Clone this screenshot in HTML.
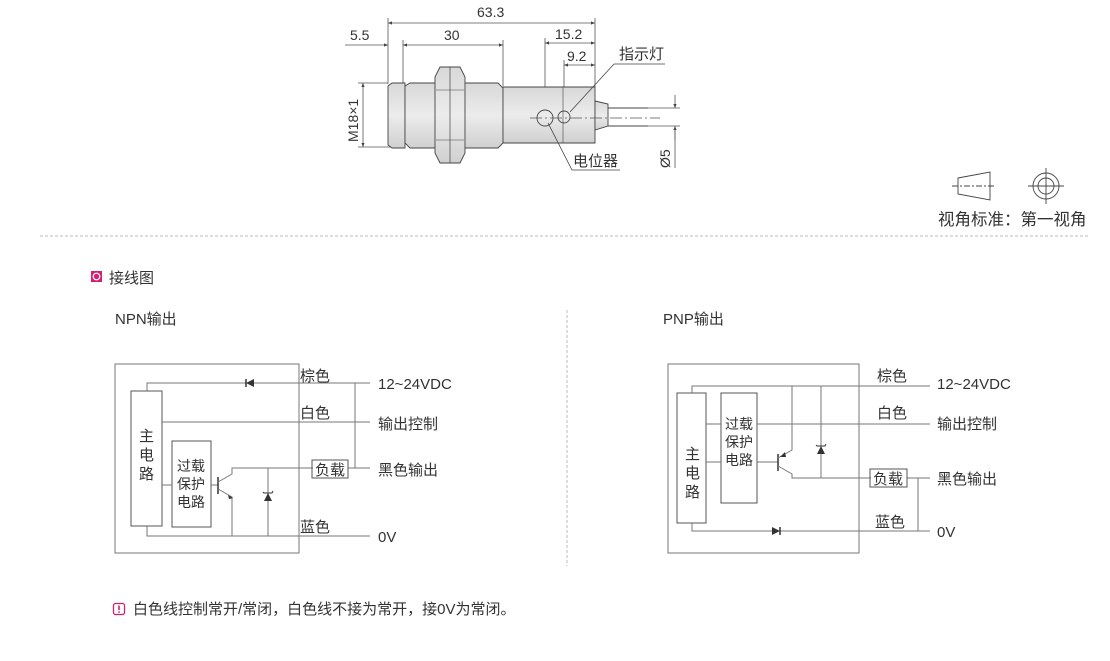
<!DOCTYPE html>
<html><head><meta charset="utf-8"><style>
html,body{margin:0;padding:0;background:#fff;}
svg{display:block;}
text{font-family:"Liberation Sans","Noto Sans CJK SC",sans-serif;fill:#333;}
</style></head><body>
<svg width="1110" height="661" viewBox="0 0 1110 661" xmlns="http://www.w3.org/2000/svg">
<defs>
<linearGradient id="g" x1="0" y1="0" x2="0" y2="1"><stop offset="0" stop-color="#d8d8d8"/><stop offset="0.5" stop-color="#ececec"/><stop offset="1" stop-color="#d0d0d0"/></linearGradient>
<marker id="a" viewBox="0 0 10 10" refX="10" refY="5" markerWidth="7" markerHeight="5" orient="auto-start-reverse"><path d="M0,1 L10,5 L0,9 z" fill="#444"/></marker>
</defs>
<g stroke="#555" stroke-width="0.8" fill="none">
<line x1="388" y1="18" x2="388" y2="84"/>
<line x1="403" y1="40" x2="403" y2="84"/>
<line x1="503" y1="40" x2="503" y2="86"/>
<line x1="545" y1="38" x2="545" y2="110"/>
<line x1="564" y1="60" x2="564" y2="110"/>
<line x1="595" y1="18" x2="595" y2="87"/>
<line x1="388" y1="23" x2="595" y2="23" marker-start="url(#a)" marker-end="url(#a)"/>
<line x1="345" y1="45" x2="388" y2="45" marker-end="url(#a)"/>
<line x1="403" y1="45" x2="503" y2="45" marker-start="url(#a)" marker-end="url(#a)"/>
<line x1="545" y1="43" x2="595" y2="43" marker-start="url(#a)" marker-end="url(#a)"/>
<line x1="564" y1="65" x2="595" y2="65" marker-start="url(#a)" marker-end="url(#a)"/>
<line x1="358" y1="83" x2="388" y2="83"/><line x1="358" y1="147" x2="405" y2="147"/>
<line x1="363" y1="83" x2="363" y2="147" marker-start="url(#a)" marker-end="url(#a)"/>
<line x1="640" y1="108" x2="680" y2="108"/><line x1="640" y1="126" x2="680" y2="126"/>
<line x1="675" y1="95" x2="675" y2="108" marker-end="url(#a)"/>
<line x1="675" y1="140" x2="675" y2="126" marker-end="url(#a)"/>
<line x1="675" y1="126" x2="675" y2="168"/>
</g>
<g stroke="#444" stroke-width="0.9">
<path d="M388,86 L392,83 L405,83 L405,148 L392,148 L388,145 Z" fill="url(#g)"/>
<path d="M405,86 L410,83 L498,83 L503,88 L503,143 L498,148 L410,148 L405,143 Z" fill="url(#g)"/>
<path d="M503,87 L595,87 L595,143 L503,143 Z" fill="url(#g)"/>
<path d="M440,67 L460,67 L465,77 L465,153 L460,163 L440,163 L435,153 L435,77 Z" fill="url(#g)"/>
<line x1="450" y1="67" x2="450" y2="163" stroke-width="0.7"/>
<line x1="436" y1="90" x2="464" y2="90" stroke-width="0.6"/><line x1="436" y1="140" x2="464" y2="140" stroke-width="0.6"/>
<line x1="563" y1="87" x2="563" y2="143" stroke-width="0.6"/>
<path d="M595,101 L608,104 L608,126 L595,130 Z" fill="url(#g)"/>
<line x1="608" y1="108" x2="648" y2="108"/><line x1="608" y1="126" x2="648" y2="126"/>
<circle cx="545" cy="118" r="8" fill="none"/>
<circle cx="564" cy="117" r="6" fill="none"/>
</g>
<line x1="530" y1="118" x2="660" y2="118" stroke="#555" stroke-width="0.7" stroke-dasharray="12,3,2,3"/>
<g stroke="#444" stroke-width="0.8" fill="none">
<polyline points="570,112 614,64 665,64"/>
<polyline points="548,123 572,170 620,170"/>
</g>
<g font-size="14">
<text x="477" y="17">63.3</text>
<text x="350" y="40">5.5</text>
<text x="444" y="40">30</text>
<text x="555" y="39">15.2</text>
<text x="567" y="61">9.2</text>
<text x="619" y="59" font-size="15">指示灯</text>
<text x="573" y="166" font-size="15">电位器</text>
<text transform="translate(358,142) rotate(-90)">M18×1</text>
<text transform="translate(670,168) rotate(-90)">Ø5</text>
</g>
<g stroke="#444" stroke-width="0.9" fill="none">
<path d="M958,178 L990,172 L990,200 L958,194 Z"/>
<line x1="952" y1="186" x2="996" y2="186" stroke-dasharray="6,2,2,2"/>
<circle cx="1046" cy="186" r="13"/><circle cx="1046" cy="186" r="8"/>
<line x1="1028" y1="186" x2="1064" y2="186"/><line x1="1046" y1="168" x2="1046" y2="204"/>
</g>
<text x="938" y="225" font-size="16.5">视角标准：第一视角</text>
<line x1="40" y1="236" x2="1090" y2="236" stroke="#bbb" stroke-width="1" stroke-dasharray="3,2"/>
<rect x="91" y="271" width="11" height="11" fill="#d6206f"/>
<circle cx="96.5" cy="276.5" r="3.3" fill="none" stroke="#fff" stroke-width="1.2"/>
<text x="109" y="283" font-size="15">接线图</text>
<text x="115" y="324" font-size="15">NPN输出</text>
<text x="663" y="324" font-size="15">PNP输出</text>
<line x1="567" y1="310" x2="567" y2="566" stroke="#bbb" stroke-dasharray="3,2"/>

<!-- NPN -->
<g stroke="#777" stroke-width="1" fill="none">
<rect x="115" y="364" width="184" height="189"/>
<rect x="131" y="391" width="31" height="135" stroke="#555"/>
<rect x="172" y="441" width="39" height="86" stroke="#555"/>
<polyline points="147,391 147,383 370,383"/>
<line x1="162" y1="422" x2="370" y2="422"/>
<line x1="162" y1="485" x2="172" y2="485"/>
<line x1="211" y1="485" x2="218" y2="485"/>
<line x1="218" y1="477" x2="218" y2="494" stroke="#333" stroke-width="1.5"/>
<polyline points="218,482 232,474 232,468 313,468"/>
<polyline points="218,489 232,497 232,536"/>
<line x1="268" y1="468" x2="268" y2="536"/>
<polyline points="147,526 147,536 370,536"/>
<polyline points="355,383 355,468 370,468"/>
<line x1="348" y1="468" x2="355" y2="468"/>
<rect x="312" y="460" width="36" height="18" stroke="#555"/>
</g>
<path d="M228,495 L233,498 L229,499 Z" fill="#333"/>
<path d="M246,383 L254,379 L254,387 Z" fill="#333"/><line x1="246" y1="379" x2="246" y2="387" stroke="#333" stroke-width="1.5"/>
<path d="M268,493 L264,501 L272,501 Z" fill="#333"/><polyline points="263,492 264,493 272,493 273,491" stroke="#333" fill="none"/>
<g font-size="15">
<text x="300" y="381">棕色</text><text x="300" y="418">白色</text><text x="300" y="532">蓝色</text>
<text x="378" y="389">12~24VDC</text><text x="378" y="429">输出控制</text><text x="378" y="475">黑色输出</text><text x="378" y="542">0V</text>
<text x="315" y="475">负载</text>
<text x="139" y="441">主</text><text x="139" y="460">电</text><text x="139" y="479">路</text>
<g font-size="14"><text x="177" y="471">过载</text><text x="177" y="489">保护</text><text x="177" y="507">电路</text></g>
</g>

<!-- PNP -->
<g stroke="#777" stroke-width="1" fill="none">
<rect x="668" y="364" width="191" height="189"/>
<rect x="677" y="393" width="29" height="130" stroke="#555"/>
<rect x="721" y="393" width="36" height="110" stroke="#555"/>
<polyline points="692,393 692,386 930,386"/>
<line x1="706" y1="424" x2="721" y2="424"/>
<line x1="757" y1="424" x2="930" y2="424"/>
<line x1="706" y1="462" x2="721" y2="462"/>
<line x1="757" y1="462" x2="778" y2="462"/>
<line x1="778" y1="454" x2="778" y2="471" stroke="#333" stroke-width="1.5"/>
<polyline points="778,458 792,450 792,386"/>
<polyline points="778,466 792,474 792,478 871,478"/>
<line x1="821" y1="386" x2="821" y2="478"/>
<polyline points="692,523 692,531 930,531"/>
<polyline points="907,478 930,478"/>
<line x1="918" y1="478" x2="918" y2="531"/>
<rect x="870" y="469" width="37" height="18" stroke="#555"/>
</g>
<path d="M780,457 L785,452 L786,457 Z" fill="#333"/>
<path d="M780,531 L772,527 L772,535 Z" fill="#333"/><line x1="780" y1="527" x2="780" y2="535" stroke="#333" stroke-width="1.5"/>
<path d="M821,446 L817,454 L825,454 Z" fill="#333"/><polyline points="816,445 817,446 825,446 826,444" stroke="#333" fill="none"/>
<g font-size="15">
<text x="877" y="381">棕色</text><text x="877" y="418">白色</text><text x="875" y="527">蓝色</text>
<text x="937" y="389">12~24VDC</text><text x="937" y="429">输出控制</text><text x="937" y="484">黑色输出</text><text x="937" y="537">0V</text>
<text x="873" y="484">负载</text>
<text x="685" y="459">主</text><text x="685" y="478">电</text><text x="685" y="497">路</text>
<g font-size="14"><text x="725" y="429">过载</text><text x="725" y="447">保护</text><text x="725" y="465">电路</text></g>
</g>

<rect x="113.5" y="603.5" width="11" height="11" rx="2" fill="none" stroke="#d6206f" stroke-width="1.3"/>
<line x1="119" y1="605.5" x2="119" y2="610" stroke="#d6206f" stroke-width="1.6"/>
<circle cx="119" cy="612" r="0.9" fill="#d6206f"/>
<text x="133" y="614" font-size="15">白色线控制常开/常闭，白色线不接为常开，接0V为常闭。</text>
</svg>
</body></html>
